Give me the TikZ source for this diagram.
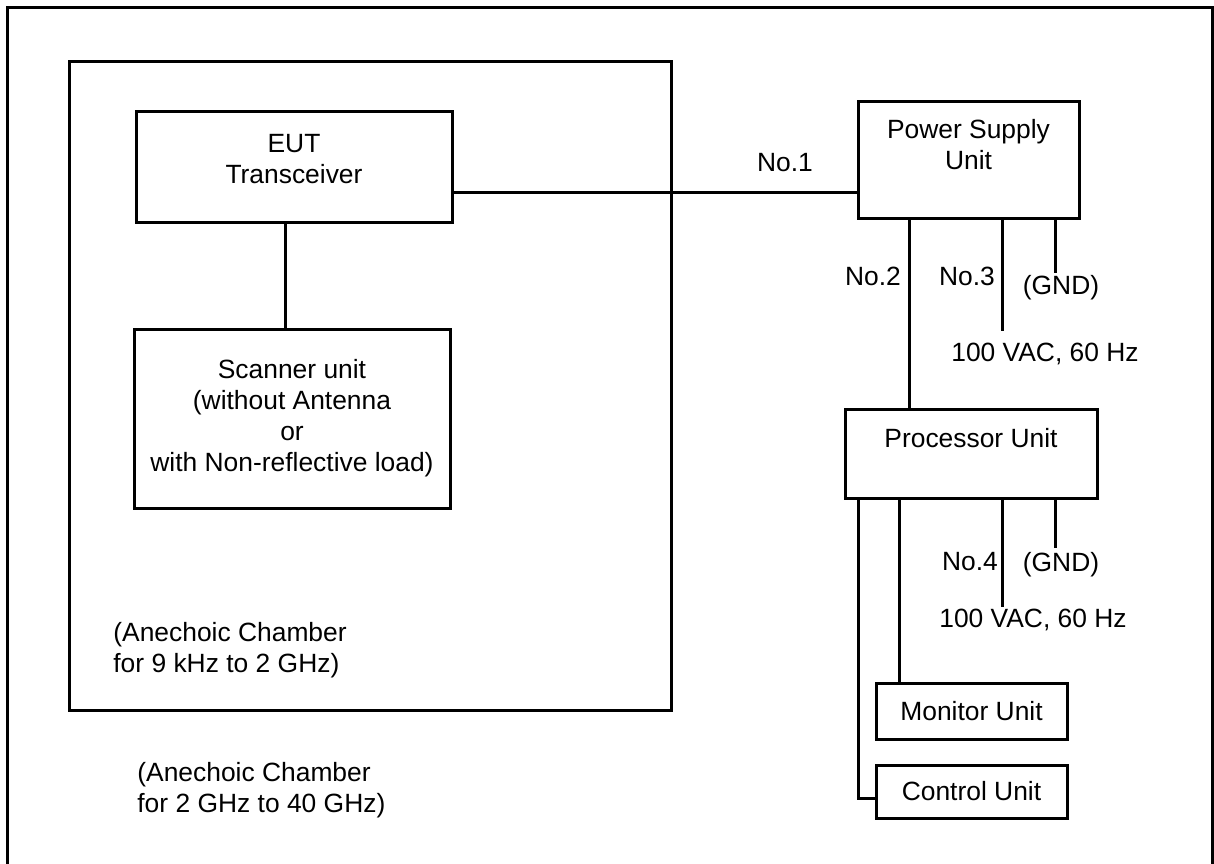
\documentclass[tikz,border=0pt]{standalone}
\usepackage{fontspec}
\setmainfont{Liberation Sans}
\usetikzlibrary{%
  calc,%
  positioning%
}
\tikzset{%
  unit/.style={draw,line width=1.5pt,inner sep=0pt,align=center},%
  wire/.style={line width=1.5pt},%
  lbl/.style={inner sep=0pt,align=center}}

\begin{document}
\begin{tikzpicture}[x=0.5pt,y=-0.5pt,font=\fontsize{13.2}{15.5}\selectfont]
    \useasboundingbox (0,0) rectangle (1214,863);
    % outer chamber and inner chamber
    \draw[wire] (7,866) -- (7,7) -- (1212,7) -- (1212,866);
    \draw[wire] (69,61) rectangle (671,710);
    % units
    \node[unit,minimum width=158pt,minimum height=55.5pt] (eut) at (294,166.5) {EUT\\Transceiver\\[-8pt]~};
    \node[unit,minimum width=158pt,minimum height=89.5pt] (scan) at (292,418.5) {Scanner unit\\(without Antenna\\or\\with Non-reflective load)};
    \node[unit,minimum width=110.5pt,minimum height=58.5pt] (psu) at (968.5,159.5) {Power Supply\\Unit\\~};
    \node[unit,minimum width=126pt,minimum height=44.5pt] (proc) at (971,453.5) {Processor Unit\\~};
    \node[unit,minimum width=95.5pt,minimum height=28pt] (mon) at (971.5,711) {Monitor Unit};
    \node[unit,minimum width=95.5pt,minimum height=26.5pt] (ctrl) at (971.5,791.5) {Control Unit};
    % free ends of the mains and ground leads
    \coordinate (ac1) at (1002,331);
    \coordinate (gnd1) at (1055,273);
    \coordinate (ac2) at (1002,607);
    \coordinate (gnd2) at (1055,548);
    % cables
    \draw[wire] ([xshift=-4.5pt]eut.south) -- ([xshift=-4.5pt]eut.south |- scan.north);
    \draw[wire] ([yshift=-12.75pt]eut.east) -- ([yshift=-12.75pt]eut.east -| psu.west);
    \draw[wire] (psu.south -| 909,0) -- (proc.north -| 909,0);
    \draw[wire] (psu.south -| ac1) -- (ac1);
    \draw[wire] (psu.south -| gnd1) -- (gnd1);
    \draw[wire] (proc.south -| 858,0) |- ([yshift=-3.25pt]ctrl.west);
    \draw[wire] (proc.south -| 899,0) -- (mon.north -| 899,0);
    \draw[wire] (proc.south -| ac2) -- (ac2);
    \draw[wire] (proc.south -| gnd2) -- (gnd2);
    % labels
    \node[lbl] (no1) at (785,163) {No.1};
    \node[lbl] (no2) at (873,276) {No.2};
    \node[lbl] (no3) at (967,276) {No.3};
    \node[lbl] (g1) at (1061,288) {(GND)};
    \node[lbl] (v1) at (1045,354) {100 VAC, 60 Hz};
    \node[lbl] (no4) at (970,562) {No.4};
    \node[lbl] (g2) at (1061,565) {(GND)};
    \node[lbl] (v2) at (1033,620) {100 VAC, 60 Hz};
    \node[lbl,align=left,anchor=west] (ch1) at (113,650) {(Anechoic Chamber\\for 9 kHz to 2 GHz)};
    \node[lbl,align=left,anchor=west] (ch2) at (137,790) {(Anechoic Chamber\\for 2 GHz to 40 GHz)};
\end{tikzpicture}
\end{document}
